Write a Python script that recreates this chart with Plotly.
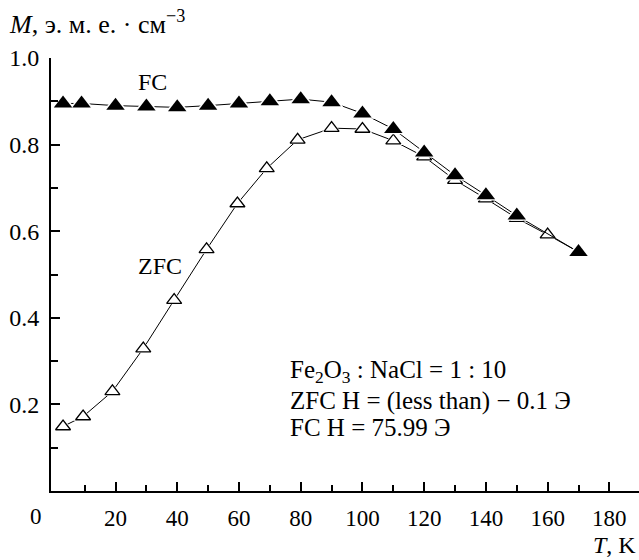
import plotly.graph_objects as go

# Data
fc_T = [3, 9, 20, 30, 40, 50, 60, 70, 80, 90, 100, 110, 120, 130, 140, 150, 170]
fc_M = [0.895, 0.895, 0.89, 0.888, 0.886, 0.89, 0.895, 0.90, 0.905, 0.898,
        0.872, 0.836, 0.782, 0.729, 0.683, 0.636, 0.552]

zfc_T = [3, 9.5, 19, 29, 39, 49.5, 59.5, 69, 79, 90, 100, 110, 120, 130, 140, 150, 160, 170]
zfc_M = [0.149, 0.172, 0.230, 0.329, 0.441, 0.558, 0.664, 0.745, 0.811, 0.838,
         0.836, 0.809, 0.772, 0.718, 0.675, 0.630, 0.592, 0.552]

x_ticks = [20, 40, 60, 80, 100, 120, 140, 160, 180]
x_minor = [10, 30, 50, 70, 90, 110, 130, 150, 170]
y_ticks = [0.2, 0.4, 0.6, 0.8, 1.0]
y_ticktext = ["0.2", "0.4", "0.6", "0.8", "1.0"]
y_minor = [0.1, 0.3, 0.5, 0.7, 0.9]

FONT = "Liberation Serif, Times New Roman, serif"
W, H = 639, 560
ML, MR, MT, MB = 51, 0, 58, 69

fig = go.Figure()

# ZFC
fig.add_trace(go.Scatter(x=zfc_T, y=zfc_M, mode="lines",
                         line=dict(color="black", width=1), hoverinfo="skip"))
fig.add_trace(go.Scatter(x=zfc_T, y=zfc_M, mode="markers",
                         marker=dict(symbol="triangle-up", size=17, color="white",
                                     line=dict(width=0)), hoverinfo="skip"))
fig.add_trace(go.Scatter(x=zfc_T, y=zfc_M, mode="markers",
                         marker=dict(symbol="triangle-up", size=13, color="white",
                                     line=dict(color="black", width=1.3))))
# FC
fig.add_trace(go.Scatter(x=fc_T, y=fc_M, mode="lines",
                         line=dict(color="black", width=1), hoverinfo="skip"))
fig.add_trace(go.Scatter(x=fc_T, y=fc_M, mode="markers",
                         marker=dict(symbol="triangle-up", size=21, color="white",
                                     line=dict(width=0)), hoverinfo="skip"))
fig.add_trace(go.Scatter(x=fc_T, y=fc_M, mode="markers",
                         marker=dict(symbol="triangle-up", size=16, color="black",
                                     line=dict(width=0))))

fig.update_layout(
    width=W, height=H,
    margin=dict(l=ML, r=MR, t=MT, b=MB),
    paper_bgcolor="white", plot_bgcolor="white",
    showlegend=False,
    font=dict(family=FONT, size=24, color="black"),
    xaxis=dict(range=[-0.9, 189.6], showgrid=False, zeroline=False,
               showline=True, linecolor="black", linewidth=2,
               ticks="inside", ticklen=9, tickwidth=2, tickcolor="black",
               tickvals=x_ticks, ticklabelstandoff=5,
               minor=dict(ticks="inside", ticklen=6, tickwidth=2, tickcolor="black",
                          tickvals=x_minor),
               tickfont=dict(family=FONT, size=23)),
    yaxis=dict(range=[0, 1.0], showgrid=False, zeroline=False,
               showline=True, linecolor="black", linewidth=2,
               ticks="inside", ticklen=9, tickwidth=2, tickcolor="black",
               tickvals=y_ticks, ticktext=y_ticktext, ticklabelstandoff=5,
               minor=dict(ticks="inside", ticklen=7, tickwidth=2, tickcolor="black",
                          tickvals=y_minor),
               tickfont=dict(family=FONT, size=24)),
)

ann = [
    ("<i>M</i>, э. м. е. · см<sup>−3</sup>", 7, 22, "left", 26),
    ("<i>T</i>, K", 638, 545, "right", 24),
    ("0", 36, 516, "center", 23),
    ("FC", 152, 82, "center", 24),
    ("ZFC", 160, 266, "center", 24),
    ("Fe<sub>2</sub>O<sub>3</sub> : NaCl = 1 : 10", 288, 371, "left", 25),
    ("ZFC H = (less than) − 0.1 Э", 288, 401, "left", 25),
    ("FC H = 75.99 Э", 288, 427, "left", 25),
]
pw, ph = W - ML - MR, H - MT - MB
for text, px, py, xa, fs in ann:
    fig.add_annotation(xref="paper", yref="paper",
                       x=(px - ML) / pw, y=(H - MB - py) / ph,
                       text=text, showarrow=False,
                       xanchor=xa, yanchor="middle",
                       font=dict(family=FONT, size=fs, color="black"))

fig.write_html("out.html",
               config={"displayModeBar": False},
               post_script="document.body.style.margin='0';document.body.style.padding='0';")
